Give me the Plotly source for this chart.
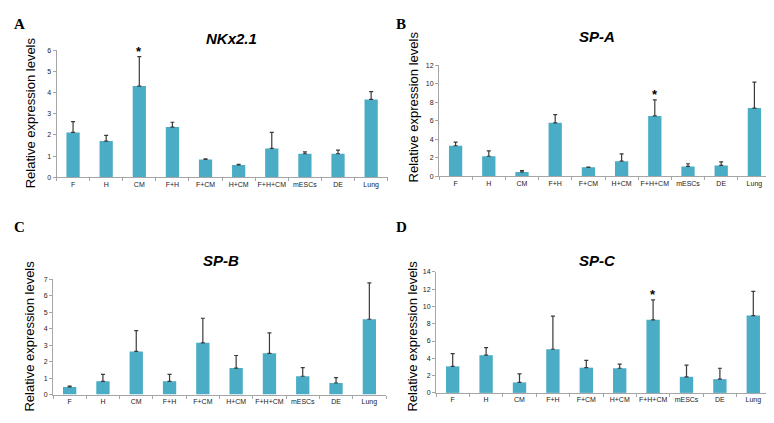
import plotly.graph_objects as go

categories = ["F", "H", "CM", "F+H", "F+CM", "H+CM", "F+H+CM", "mESCs", "DE", "Lung"]

nkx21_mean = [2.12, 1.71, 4.31, 2.37, 0.84, 0.58, 1.36, 1.11, 1.11, 3.68]
nkx21_top = [2.63, 1.98, 5.70, 2.60, 0.87, 0.61, 2.12, 1.20, 1.28, 4.05]

spa_mean = [3.29, 2.16, 0.46, 5.77, 0.96, 1.63, 6.51, 1.06, 1.17, 7.36]
spa_top = [3.68, 2.73, 0.60, 6.65, 0.99, 2.41, 8.25, 1.35, 1.56, 10.16]

spb_mean = [0.46, 0.80, 2.62, 0.80, 3.14, 1.61, 2.50, 1.11, 0.70, 4.57]
spb_top = [0.52, 1.23, 3.88, 1.23, 4.63, 2.37, 3.74, 1.63, 1.03, 6.78]

spc_mean = [3.07, 4.36, 1.21, 5.05, 2.92, 2.85, 8.46, 1.86, 1.59, 8.95]
spc_top = [4.55, 5.24, 2.20, 8.88, 3.76, 3.34, 10.77, 3.22, 2.85, 11.76]

panels = [
    dict(letter="A", title="NKx2.1", mean=nkx21_mean, top=nkx21_top, ymax=6, dtick=1, star="CM"),
    dict(letter="B", title="SP-A", mean=spa_mean, top=spa_top, ymax=12, dtick=2, star="F+H+CM"),
    dict(letter="C", title="SP-B", mean=spb_mean, top=spb_top, ymax=7, dtick=1, star=None),
    dict(letter="D", title="SP-C", mean=spc_mean, top=spc_top, ymax=14, dtick=2, star="F+H+CM"),
]

W, H = 774, 423
# pixel boxes: (x_left, x_right, y_top, y_bottom)
boxes = [
    (48.5, 379.7, 39.0, 168.0),
    (431.0, 763.0, 54.0, 167.0),
    (45.0, 378.0, 271.7, 389.0),
    (428.0, 762.0, 264.3, 387.3),
]
title_pos = [(223, 27), (589, 25), (213, 253), (589, 253)]
letter_pos = [(4, 12), (386, 12), (4, 219), (386, 219)]
ytitle_pos = [(22, 103), (405, 97), (22, 330), (405, 330)]

BAR = "#4BACC6"
AXIS = "#A6A6A6"

fig = go.Figure()
annotations = []
layout = {}

for i, (p, b) in enumerate(zip(panels, boxes)):
    n = "" if i == 0 else str(i + 1)
    xa, ya = "x" + n, "y" + n
    err = [t - m for t, m in zip(p["top"], p["mean"])]
    fig.add_trace(go.Bar(
        x=categories, y=p["mean"], xaxis=xa, yaxis=ya,
        marker=dict(color=BAR, line=dict(width=0)), width=0.4,
        error_y=dict(type="data", symmetric=False, array=err, arrayminus=[0] * len(err),
                     color="#3a3a3a", thickness=1.2, width=2),
        showlegend=False, hoverinfo="x+y",
    ))
    x0, x1, yt, yb = b
    layout["xaxis" + n] = dict(
        domain=[x0 / W, x1 / W], anchor=ya, type="category",
        showline=True, linecolor=AXIS, linewidth=1,
        ticks="outside", tickson="boundaries", ticklen=3, tickcolor=AXIS,
        tickangle=0,
        tickfont=dict(family="Liberation Sans", size=7, color="#222"),
        showgrid=False, zeroline=False, fixedrange=True,
    )
    layout["yaxis" + n] = dict(
        domain=[1 - yb / H, 1 - yt / H], anchor=xa,
        range=[0, p["ymax"]], dtick=p["dtick"],
        showline=True, linecolor=AXIS, linewidth=1,
        ticks="outside", ticklen=3, tickcolor=AXIS,
        tickfont=dict(family="Liberation Sans", size=7, color="#222"),
        showgrid=False, zeroline=False, fixedrange=True,
    )
    tx, ty = title_pos[i]
    annotations.append(dict(text="<b><i>%s</i></b>" % p["title"], x=tx / W, y=1 - ty / H,
                            xref="paper", yref="paper", showarrow=False,
                            xanchor="center", yanchor="middle",
                            font=dict(family="Liberation Sans", size=15, color="#000")))
    lx, ly = letter_pos[i]
    annotations.append(dict(text="<b>%s</b>" % p["letter"], x=lx / W, y=1 - ly / H,
                            xref="paper", yref="paper", showarrow=False,
                            xanchor="left", yanchor="middle",
                            font=dict(family="Liberation Serif", size=15, color="#000")))
    yx, yy = ytitle_pos[i]
    annotations.append(dict(text="Relative expression levels", x=yx / W, y=1 - yy / H,
                            xref="paper", yref="paper", showarrow=False, textangle=-90,
                            xanchor="center", yanchor="middle",
                            font=dict(family="Liberation Sans", size=13, color="#000")))
    if p["star"]:
        k = categories.index(p["star"])
        annotations.append(dict(text="<b>*</b>", x=p["star"], y=p["top"][k],
                                xref=xa, yref=ya, showarrow=False,
                                xanchor="center", yanchor="bottom", yshift=-4,
                                font=dict(family="Liberation Sans", size=13, color="#000")))

fig.update_layout(
    width=W, height=H, margin=dict(l=0, r=0, t=0, b=0),
    paper_bgcolor="white", plot_bgcolor="white",
    annotations=annotations, bargap=0.6, **layout,
)

fig.write_html("out.html")
